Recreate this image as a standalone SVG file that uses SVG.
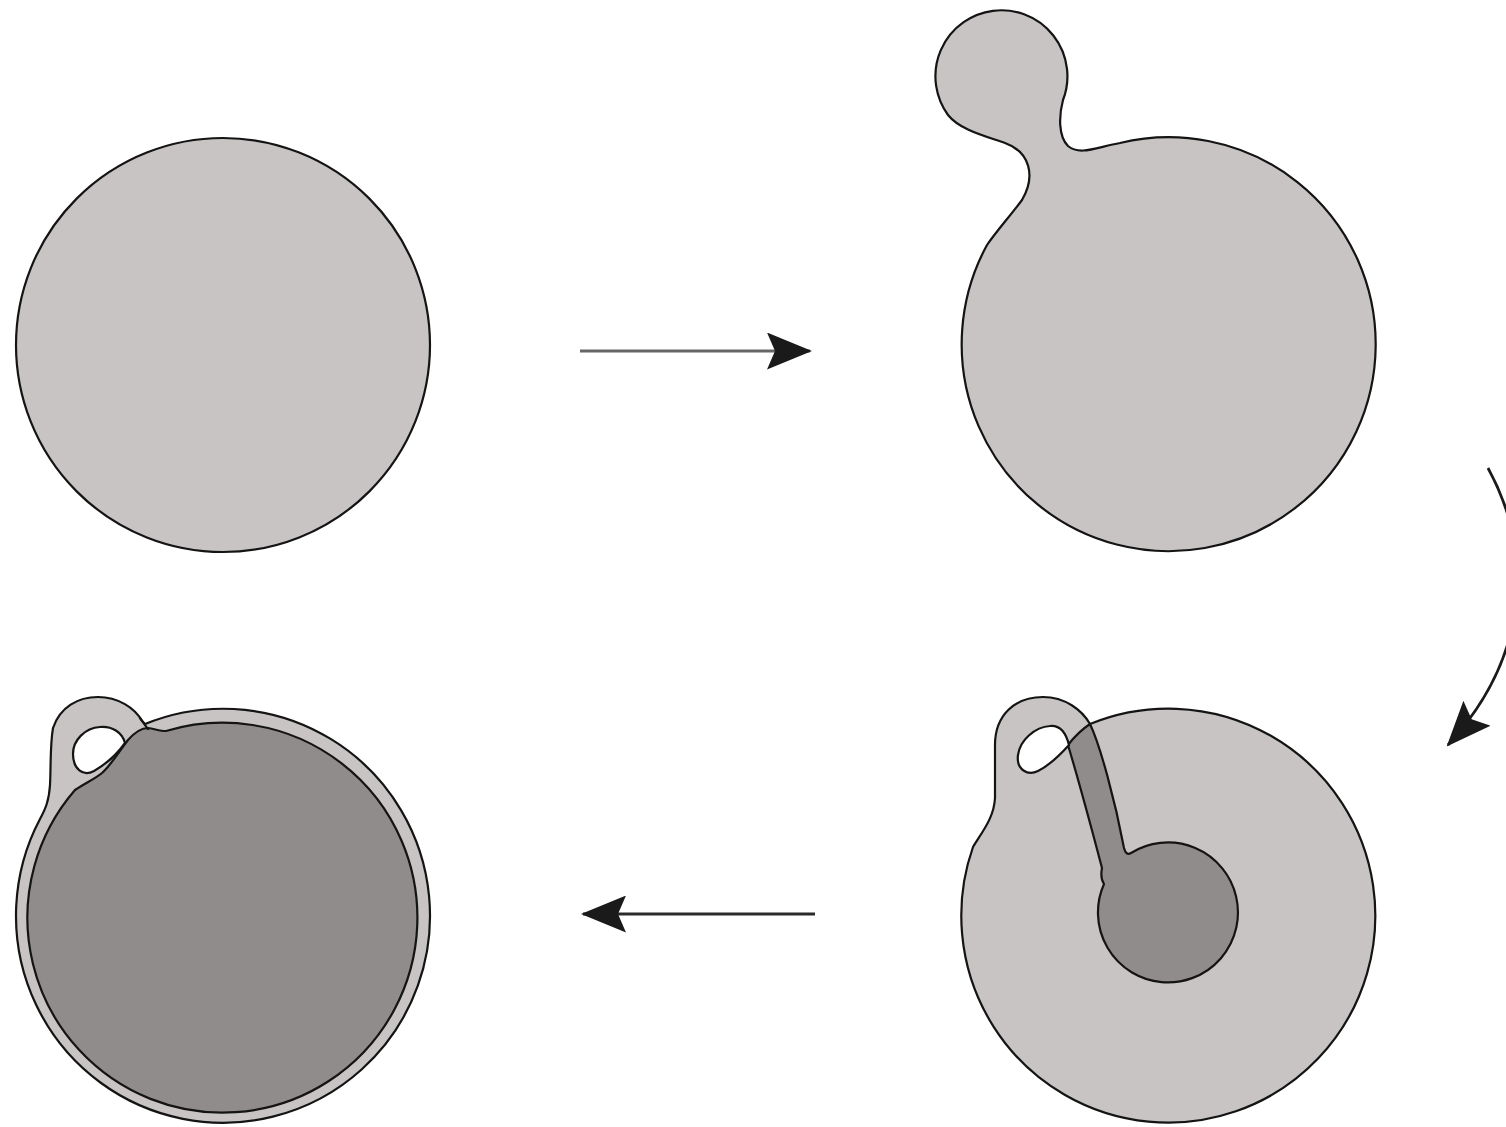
<svg xmlns="http://www.w3.org/2000/svg" width="1506" height="1127" viewBox="0 0 1506 1127">
  <style>
    .light { fill: #c8c4c4; stroke: #141414; stroke-width: 2.2; stroke-linejoin: round; }
    .dark { fill: #918c8c; stroke: #141414; stroke-width: 2.2; stroke-linejoin: round; }
    .hole { fill: #ffffff; stroke: #141414; stroke-width: 2.2; }
    .edge { fill: none; stroke: #141414; stroke-width: 2.2; stroke-linecap: round; }
    .conn { fill: none; stroke-width: 2.8; }
  </style>
  <defs>
    <marker id="arrowhead" viewBox="0 0 45 37" refX="43" refY="18.5" markerWidth="45" markerHeight="37" markerUnits="userSpaceOnUse" orient="auto">
      <path d="M0,0 L45,18.5 L0,37 L8,18.5 Z" fill="#1a1a1a"/>
    </marker>
  </defs>

  <g id="cell-1">
    <circle class="light" cx="223" cy="345" r="207"/>
  </g>

  <g id="cell-2">
    <path class="light" d="M 987 245 A 207 207 0 1 0 1120 143 C 1097 147 1080 156 1068 146 C 1058 136 1059 115 1063 100 A 66 66 0 1 0 948 115 C 960 130 985 136 1005 143 C 1030 152 1036 176 1022 200 C 1010 216 995 233 987 245 Z"/>
  </g>

  <g id="cell-3">
    <path class="light" d="M 973 847 A 207 207 0 1 0 1090 724 C 1082 710 1065 697 1043 697 C 1015 697 995 715 995 745 L 995 798 C 994 818 982 832 973 847 Z"/>
    <path class="dark" d="M 1090 724 C 1100 745 1115 800 1124 848 Q 1126 856 1131 853 A 70 70 0 1 1 1104 884 Q 1100 878 1102 868 C 1092 830 1080 785 1068 745 Q 1078 732 1090 724 Z"/>
    <path class="hole" d="M 1069 745 C 1066 733 1060 725 1050 726 C 1035 727 1020 740 1018 755 C 1016 770 1028 776 1038 771 C 1050 765 1060 755 1069 745 Z"/>
  </g>

  <g id="cell-4">
    <path class="light" d="M 145 724 A 207 207 0 1 1 40 819 C 46 808 49 800 50 785 C 51 765 50 745 53 728 C 60 707 78 697 98 697 C 118 697 135 708 142 721 Z"/>
    <path class="dark" d="M 166 731 A 195 195 0 1 1 75 790 C 85 783 95 779 102 773 C 112 764 120 750 128 740 C 135 732 142 728 148 728 C 155 729 160 731 166 731 Z"/>
    <path class="edge" d="M 140 718 C 144 723 146 727 148 729"/>
    <path class="hole" d="M 125 743 C 122 732 112 726 100 727 C 85 728 73 740 73 754 C 73 769 83 777 94 771 C 106 764 118 753 125 743 Z"/>
  </g>

  <g id="connectors">
    <path class="conn" stroke="#666666" d="M 580 351 L 810 351" marker-end="url(#arrowhead)"/>
    <path class="conn" stroke="#1a1a1a" d="M 1488 468 C 1530 545 1535 650 1448 745" marker-end="url(#arrowhead)"/>
    <path class="conn" stroke="#2a2a2a" d="M 815 914 L 583 914" marker-end="url(#arrowhead)"/>
  </g>
</svg>
